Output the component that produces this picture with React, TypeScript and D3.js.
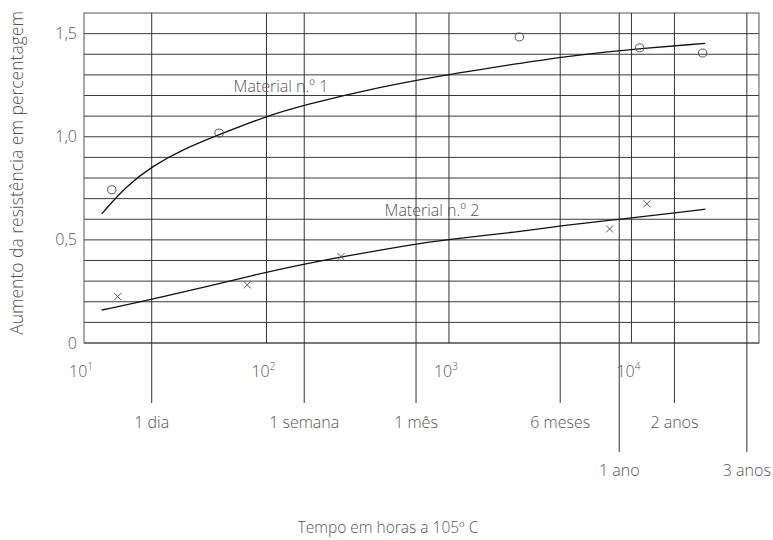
import React from 'react';
import * as d3 from 'd3';

// values
const decadeTicks = [10, 100, 1000, 10000];
const decadeExp = ['1', '2', '3', '4'];
const valueTicks = [0, 0.5, 1.0, 1.5];
const valueLabels = ['0', '0,5', '1,0', '1,5'];
const gridValues = d3.range(0, 16).map(i => i / 10);

const periodLabels = ['1 dia', '1 semana', '1 mês', '6 meses', '1 ano', '2 anos', '3 anos'];
const periodHours = [23.5, 161, 660, 4070, 8570, 17200, 42900];
const periodRow = [1, 1, 1, 1, 2, 1, 2];

const mat1Curve: [number, number][] = [
  [12.5, 0.626], [17, 0.76], [23.5, 0.856], [35, 0.94], [55, 1.01], [96, 1.095],
  [163, 1.155], [400, 1.238], [953, 1.3], [2450, 1.356], [4070, 1.386],
  [8570, 1.419], [25400, 1.453],
];
const mat2Curve: [number, number][] = [
  [12.5, 0.16], [23.5, 0.21], [96, 0.34], [161, 0.385], [660, 0.482],
  [953, 0.5], [2450, 0.54], [4070, 0.568], [8570, 0.6], [17200, 0.63], [25400, 0.649],
];
const mat1Points: [number, number][] = [
  [14.2, 0.743], [55, 1.018], [2430, 1.484], [11090, 1.431], [24550, 1.406],
];
const mat2Points: [number, number][] = [
  [15.3, 0.225], [78.5, 0.282], [256, 0.419], [7590, 0.553], [12160, 0.675],
];

const FONT = "'Open Sans', 'Noto Sans', sans-serif";
const TXT = '#555';

export default function App() {
  const left = 84, right = 759, top = 13, bottom = 343;
  const x = d3.scaleLog().domain([10, 50000]).range([left, right]);
  const y = d3.scaleLinear().domain([0, 1.6]).range([bottom, top]);
  const line = d3.line<[number, number]>()
    .x(d => x(d[0]))
    .y(d => y(d[1]))
    .curve(d3.curveBasis);

  return (
    <svg width={773} height={540} style={{ position: 'absolute', left: 0, top: 0, background: '#fff' }}
      fontFamily={FONT} fontWeight={300}>
      {/* horizontal grid */}
      {gridValues.map(v => (
        <line key={'h' + v} x1={left} x2={right} y1={y(v)} y2={y(v)} stroke="#3a3a3a" strokeWidth={1} />
      ))}
      {/* frame */}
      <rect x={left} y={top} width={right - left} height={bottom - top} fill="none" stroke="#555" strokeWidth={1} />
      {/* decade lines */}
      {decadeTicks.slice(1).map(t => (
        <line key={'d' + t} x1={x(t)} x2={x(t)} y1={top} y2={bottom} stroke="#333" strokeWidth={1} />
      ))}
      {/* period lines */}
      {periodHours.map((h, i) => (
        <line key={'p' + i} x1={x(h)} x2={x(h)} y1={top}
          y2={periodRow[i] === 1 ? 403 : 452} stroke="#333" strokeWidth={1} />
      ))}
      {/* curves */}
      <path d={line(mat1Curve) || ''} fill="none" stroke="#111" strokeWidth={1.3} />
      <path d={line(mat2Curve) || ''} fill="none" stroke="#111" strokeWidth={1.3} />
      {/* markers */}
      {mat1Points.map((p, i) => (
        <ellipse key={'c' + i} cx={x(p[0])} cy={y(p[1])} rx={4.2} ry={4} fill="none" stroke="#555" strokeWidth={1} />
      ))}
      {mat2Points.map((p, i) => {
        const cx = x(p[0]), cy = y(p[1]);
        return (
          <path key={'x' + i} d={`M${cx - 3.5},${cy - 3.5}L${cx + 3.5},${cy + 3.5}M${cx + 3.5},${cy - 3.5}L${cx - 3.5},${cy + 3.5}`}
            stroke="#555" strokeWidth={1} fill="none" />
        );
      })}
      {/* series labels */}
      <text x={281} y={92} textAnchor="middle" fontSize={16} fill={TXT}>Material n.º 1</text>
      <text x={432} y={216} textAnchor="middle" fontSize={16} fill={TXT}>Material n.º 2</text>
      {/* y ticks */}
      {valueTicks.map((v, i) => (
        <text key={'yt' + v} x={77} y={y(v) + 5.5} textAnchor="end" fontSize={16} fill={TXT}>{valueLabels[i]}</text>
      ))}
      {/* x decade labels */}
      {decadeTicks.map((t, i) => (
        <text key={'xt' + t} x={x(t) - 3} y={377} textAnchor="middle" fontSize={16} fill={TXT}>
          10<tspan fontSize={10} dy={-7}>{decadeExp[i]}</tspan>
        </text>
      ))}
      {/* period labels */}
      {periodHours.map((h, i) => (
        <text key={'pl' + i} x={x(h)} y={periodRow[i] === 1 ? 428 : 476} textAnchor="middle" fontSize={16} fill={TXT}>
          {periodLabels[i]}
        </text>
      ))}
      {/* axis titles */}
      <text x={388} y={533} textAnchor="middle" fontSize={15.5} fill={TXT}>Tempo em horas a 105º C</text>
      <text transform="translate(23,173) rotate(-90)" textAnchor="middle" fontSize={17.5} fill={TXT}>
        Aumento da resistência em percentagem
      </text>
    </svg>
  );
}
